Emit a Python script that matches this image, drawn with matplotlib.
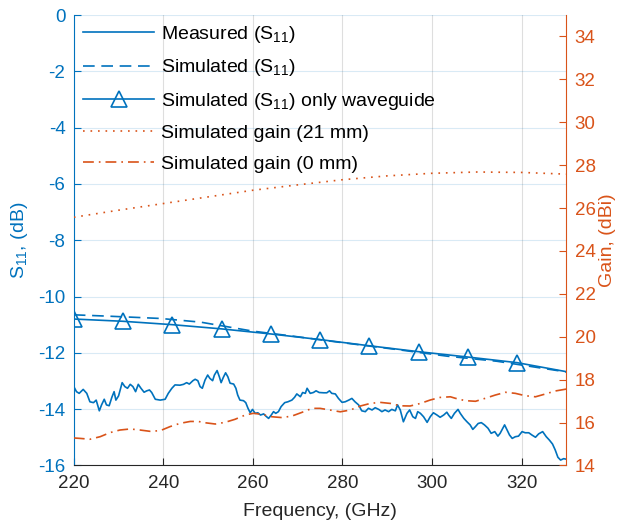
import numpy as np
import matplotlib.pyplot as plt

plt.rcParams['font.family'] = ['Liberation Sans', 'DejaVu Sans']
plt.rcParams['mathtext.fontset'] = 'custom'
plt.rcParams['mathtext.rm'] = 'Liberation Sans'
plt.rcParams['mathtext.it'] = 'Liberation Sans:italic'
plt.rcParams['axes.unicode_minus'] = False

blue = '#0072BD'
orange = '#D95319'
dark = '#262626'

# measured S11 (dB)
f_meas = [220.0, 220.6, 221.2, 222.1, 222.9, 223.6, 224.4, 225.0, 225.7, 226.2, 226.8, 227.3,
          227.9, 228.5, 229.0, 229.4, 230.0, 230.8, 231.4, 232.0, 232.6, 233.2, 233.8, 234.4,
          235.0, 235.7, 236.3, 236.9, 237.4, 238.2, 239.3, 240.4, 241.1, 241.9, 242.6, 243.7,
          244.5, 245.2, 245.8, 246.6, 247.1, 247.7, 248.2, 248.7, 249.3, 249.9, 250.4, 251.0,
          251.4, 252.0, 252.5, 252.9, 253.4, 253.9, 254.4, 254.9, 255.7, 256.2, 256.6, 257.1,
          257.9, 258.4, 258.9, 259.4, 259.9, 260.5, 261.1, 261.7, 262.4, 262.9, 263.5, 264.1,
          264.6, 265.1, 265.7, 266.3, 267.1, 267.8, 268.7, 269.3, 269.8, 270.6, 271.1, 271.7,
          272.1, 272.8, 273.5, 274.1, 274.8, 275.8, 276.5, 277.1, 277.6, 278.4, 279.1, 279.9,
          280.6, 281.4, 282.1, 282.8, 283.6, 284.3, 285.1, 285.8, 286.6, 287.3, 288.1, 288.8,
          289.5, 290.3, 291.0, 291.8, 292.3, 292.9, 293.6, 294.4, 295.0, 295.7, 296.3, 296.8,
          297.4, 298.1, 298.9, 299.6, 300.3, 301.1, 301.8, 302.6, 303.3, 303.7, 304.3, 305.0,
          305.8, 306.3, 307.1, 307.8, 308.5, 309.1, 309.7, 310.3, 311.0, 311.7, 312.5, 313.2,
          314.0, 314.7, 315.2, 315.8, 316.2, 316.7, 317.3, 317.9, 318.6, 319.3, 320.1, 320.8,
          321.6, 322.3, 323.1, 323.8, 324.7, 325.5, 326.2, 326.9, 327.5, 328.1, 328.7, 329.4, 330.0]
s_meas = [-13.20, -13.38, -13.44, -13.30, -13.44, -13.74, -13.77, -13.68, -14.06, -13.85, -13.65, -13.85,
          -13.88, -13.58, -13.38, -13.68, -13.53, -13.06, -13.20, -13.26, -13.12, -13.20, -13.38, -13.12,
          -13.26, -13.40, -13.35, -13.32, -13.41, -13.65, -13.68, -13.65, -13.44, -13.26, -13.14, -13.15,
          -13.12, -13.06, -13.11, -12.99, -12.94, -12.99, -13.20, -13.26, -12.97, -12.79, -12.91, -12.99,
          -12.79, -12.63, -12.85, -13.06, -12.87, -12.71, -12.85, -13.08, -13.11, -13.26, -13.50, -13.68,
          -13.70, -13.77, -13.97, -14.13, -14.01, -14.15, -14.13, -14.21, -14.17, -14.25, -14.33, -14.21,
          -14.09, -14.15, -14.09, -13.91, -13.77, -13.74, -13.68, -13.58, -13.46, -13.56, -13.41, -13.44,
          -13.26, -13.44, -13.41, -13.35, -13.41, -13.42, -13.42, -13.35, -13.44, -13.46, -13.62, -13.76,
          -13.74, -13.68, -13.62, -13.74, -13.85, -14.06, -14.09, -13.97, -14.03, -13.95, -14.01, -14.09,
          -14.03, -14.09, -14.01, -14.06, -13.85, -14.03, -14.45, -14.15, -14.03, -14.27, -14.33, -14.09,
          -14.15, -14.27, -14.47, -14.27, -14.13, -14.21, -14.29, -14.21, -14.11, -14.21, -14.33, -14.15,
          -14.01, -14.15, -14.33, -14.45, -14.56, -14.72, -14.62, -14.51, -14.48, -14.56, -14.68, -14.86,
          -14.80, -14.96, -14.86, -14.68, -14.56, -14.72, -14.92, -15.04, -14.98, -14.96, -14.80, -14.84,
          -14.84, -14.92, -15.00, -14.88, -14.80, -14.98, -15.10, -15.24, -15.45, -15.71, -15.81, -15.76, -15.78]

# simulated S11 (dB)
f_sim = [220, 228, 239.4, 248.3, 260, 269, 279, 292, 303.4, 314.5, 330]
s_sim = [-10.65, -10.70, -10.78, -10.91, -11.23, -11.41, -11.62, -11.88, -12.12, -12.30, -12.68]

# simulated S11, only waveguide (dB)
f_wg = [220, 231, 242, 253, 264, 275, 286, 297, 308, 319, 330]
s_wg = [-10.80, -10.88, -11.00, -11.15, -11.33, -11.53, -11.75, -11.96, -12.15, -12.35, -12.67]

# simulated gain 21 mm (dBi)
f_g21 = [220, 230, 240, 250, 260, 270, 280, 290, 300, 310, 320, 330]
g21 = [25.57, 25.90, 26.21, 26.52, 26.83, 27.08, 27.32, 27.50, 27.62, 27.68, 27.66, 27.58]

# simulated gain 0 mm (dBi)
f_g0 = [220.0, 221.4, 223.6, 225.9, 228.1, 230.3, 232.6, 234.8, 237.0, 239.3, 241.5, 243.7,
        246.0, 247.8, 249.3, 251.6, 253.8, 256.0, 258.3, 260.1, 262.0, 264.2, 266.5, 268.7,
        270.9, 273.2, 275.0, 277.3, 279.5, 281.7, 284.0, 286.2, 288.4, 290.7, 292.9, 295.1,
        297.4, 299.6, 301.8, 304.1, 305.2, 307.4, 309.7, 311.9, 314.1, 316.4, 318.6, 320.8,
        323.1, 325.3, 327.5, 330.0]
g0 = [15.28, 15.26, 15.22, 15.34, 15.53, 15.65, 15.70, 15.65, 15.59, 15.62, 15.81, 15.96,
      16.05, 16.05, 15.99, 15.93, 16.01, 16.15, 16.35, 16.43, 16.38, 16.27, 16.23, 16.30,
      16.47, 16.66, 16.66, 16.58, 16.50, 16.58, 16.77, 16.89, 16.94, 16.89, 16.78, 16.77,
      16.89, 17.05, 17.17, 17.20, 17.13, 17.02, 16.99, 17.13, 17.28, 17.41, 17.36, 17.25,
      17.20, 17.33, 17.47, 17.56]

fig = plt.figure(figsize=(6.18, 5.23), dpi=100)
ax = fig.add_axes([0.1194, 0.1101, 0.7971, 0.8612])
ax2 = ax.twinx()

lw = 1.2
sub = r'$\mathregular{_{11}}$'
l1, = ax.plot(f_meas, s_meas, color=blue, lw=lw, label='Measured (S' + sub + ')')
l2, = ax.plot(f_sim, s_sim, color=blue, lw=lw, linestyle=(0, (7, 4)),
              label='Simulated (S' + sub + ')')
l3, = ax.plot(f_wg, s_wg, color=blue, lw=lw, marker='^', markersize=11, markevery=range(10),
              markerfacecolor='none', markeredgewidth=1.2,
              label='Simulated (S' + sub + ') only waveguide')
l4, = ax2.plot(f_g21, g21, color=orange, lw=lw, linestyle=(0, (1, 3.5)), label='Simulated gain (21 mm)')
l5, = ax2.plot(f_g0, g0, color=orange, lw=lw, linestyle=(0, (6.5, 3, 1, 3)), label='Simulated gain (0 mm)')

ax.set_xlim(220, 330)
ax.set_ylim(-16, 0)
ax2.set_ylim(14, 35)
ax.set_xticks([220, 240, 260, 280, 300, 320])
ax.set_yticks(np.arange(-16, 1, 2))
ax2.set_yticks(np.arange(14, 35, 2))

ax.grid(True, axis='x', color=dark, alpha=0.15, lw=0.8)
ax.grid(True, axis='y', color=blue, alpha=0.15, lw=0.8)
ax.set_axisbelow(True)

fs = 14
ax.tick_params(axis='both', direction='in', length=5, labelsize=fs - 0.5)
ax.tick_params(axis='x', colors=dark, pad=7)
ax.tick_params(axis='y', colors=blue, pad=6)
ax2.tick_params(axis='y', direction='in', length=5, labelsize=fs - 0.5, colors=orange, pad=6)

for s in ['top', 'right']:
    ax.spines[s].set_visible(False)
for s in ['top', 'left', 'bottom']:
    ax2.spines[s].set_visible(False)
ax.spines['left'].set_color(blue)
ax.spines['bottom'].set_color(dark)
ax2.spines['right'].set_color(orange)

ax.set_xlabel('Frequency, (GHz)', fontsize=fs, color=dark, labelpad=8)
ax.set_ylabel('S' + sub + ', (dB)', fontsize=fs, color=blue, labelpad=6)
ax2.set_ylabel('Gain, (dBi)', fontsize=fs, color=orange, labelpad=2)

ax2.legend(handles=[l1, l2, l3, l4, l5], loc='upper left', bbox_to_anchor=(0, 1),
           frameon=False, fontsize=fs, handlelength=3.7, handletextpad=0.35,
           labelspacing=0.65, borderaxespad=0.0, borderpad=0.45)

fig.savefig('out.png', dpi=100)
